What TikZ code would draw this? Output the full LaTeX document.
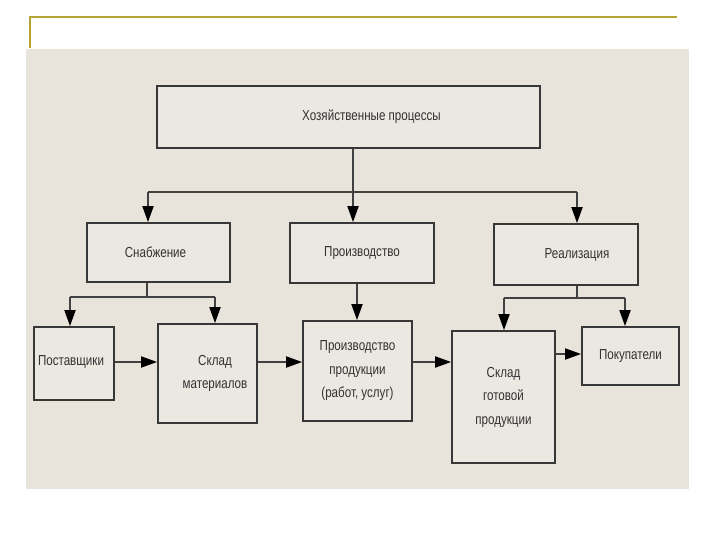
\documentclass[tikz,border=0pt]{standalone}
\usepackage{fontspec}
\setmainfont{Liberation Sans}[FakeStretch=0.8]
\usetikzlibrary{arrows.meta}
\definecolor{bgc}{RGB}{232,228,219}
\definecolor{boxfill}{RGB}{235,232,226}
\definecolor{boxc}{RGB}{55,55,55}
\definecolor{linec}{RGB}{65,65,65}
\definecolor{txtc}{RGB}{50,50,50}
\definecolor{goldc}{RGB}{184,164,52}
\begin{document}
\begin{tikzpicture}[x=1pt,y=-1pt,
  box/.style={draw=boxc, line width=1.8pt, fill=boxfill, inner sep=0pt, align=center,
    text=txtc, font=\fontsize{14.5}{23.5}\selectfont},
  conn/.style={draw=linec, line width=1.8pt},
  arr/.style={conn, -{Triangle[length=16pt,width=11pt,fill=black,color=black]}}]
\useasboundingbox (0,0) rectangle (720,540);
\fill[white] (0,0) rectangle (720,540);
\draw[goldc, line width=2pt] (677,17) -- (30,17) -- (30,48);
\fill[bgc] (26,49) rectangle (689,489);

\node[box, minimum width=383pt, minimum height=62pt] (top) at (348.5,117) {\hspace*{46pt}Хозяйственные процессы};
\node[box, minimum width=143pt, minimum height=59pt] (snab) at (158.5,252.5) {\hspace*{-6pt}Снабжение};
\node[box, minimum width=144pt, minimum height=60pt] (proizv) at (362,253) {Производство};
\node[box, minimum width=144pt, minimum height=61pt] (real) at (566,254.5) {\hspace*{22pt}Реализация};
\node[box, minimum width=80pt, minimum height=73pt] (post) at (74,363.5) {\hspace*{-6pt}\raisebox{5pt}{Поставщики}};
\node[box, minimum width=99pt, minimum height=99pt] (sklmat) at (207.5,373.5) {\hspace*{15pt}Склад\\\hspace*{15pt}материалов};
\node[box, minimum width=109pt, minimum height=100pt] (prprod) at (357.5,371) {Производство\\продукции\\(работ, услуг)};
\node[box, minimum width=103pt, minimum height=132pt] (sklgot) at (503.5,397) {Склад\\готовой\\продукции};
\node[box, minimum width=97pt, minimum height=58pt] (pok) at (630.5,356) {Покупатели};

% top level branching
\coordinate (j0) at (353,192);
\coordinate (ja) at (148,192);
\coordinate (jc) at (577,192);
\draw[conn] (ja) -- (jc);
\draw[arr] (top.south -| j0) -- (proizv.north -| j0);
\draw[arr] (ja) -- (ja |- snab.north);
\draw[arr] (jc) -- (jc |- real.north);

% Snabzhenie branching
\coordinate (sb) at (147,297);
\coordinate (sa) at (70,297);
\coordinate (sc) at (215,297);
\draw[conn] (snab.south -| sb) -- (sb);
\draw[conn] (sa) -- (sc);
\draw[arr] (sa) -- (sa |- post.north);
\draw[arr] (sc) -- (sc |- sklmat.north);

% Proizvodstvo down
\coordinate (pb) at (357,300);
\draw[arr] (proizv.south -| pb) -- (prprod.north -| pb);

% Realizatsiya branching
\coordinate (rb) at (577,298);
\coordinate (ra) at (504,298);
\coordinate (rc) at (625,298);
\draw[conn] (real.south -| rb) -- (rb);
\draw[conn] (ra) -- (rc);
\draw[arr] (ra) -- (ra |- sklgot.north);
\draw[arr] (rc) -- (rc |- pok.north);

% horizontal flow
\coordinate (h1) at (0,362);
\coordinate (h2) at (0,354);
\draw[arr] (post.east |- h1) -- (sklmat.west |- h1);
\draw[arr] (sklmat.east |- h1) -- (prprod.west |- h1);
\draw[arr] (prprod.east |- h1) -- (sklgot.west |- h1);
\draw[arr] (sklgot.east |- h2) -- (pok.west |- h2);
\end{tikzpicture}
\end{document}
